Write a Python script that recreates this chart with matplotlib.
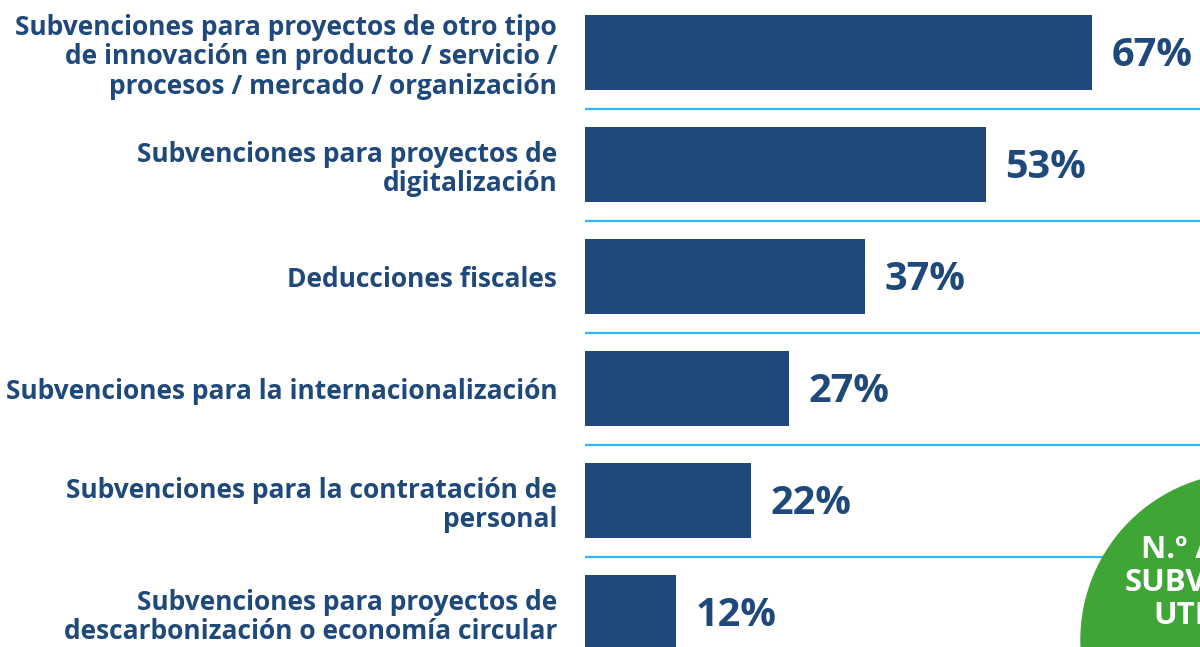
import matplotlib.pyplot as plt
from matplotlib.patches import Circle

# Share of companies using each type of public aid (%)
categories = [
    'Subvenciones para proyectos de otro tipo\nde innovación en producto / servicio /\nprocesos / mercado / organización',
    'Subvenciones para proyectos de\ndigitalización',
    'Deducciones fiscales',
    'Subvenciones para la internacionalización',
    'Subvenciones para la contratación de\npersonal',
    'Subvenciones para proyectos de\ndescarbonización o economía circular',
]
values = [67, 53, 37, 27, 22, 12]
badge_lines = ['N.º AYUDAS Y', 'SUBVENCIONES', 'UTILIZADAS']

navy = '#1f487b'
sky = '#2db8f2'
green = '#3fa536'
font = 'Open Sans'

fig = plt.figure(figsize=(12, 6.47), dpi=100)
W, H = 1200, 647
ax = fig.add_axes([585 / W, 0, 1 - 585 / W, 1])

y = list(range(len(values)))
ax.barh(y, values, height=0.67, color=navy, zorder=2)
for yi, v in zip(y, values):
    ax.annotate(f'{v}%', (v, yi), xytext=(14, -2), textcoords='offset points',
                va='center', ha='left', fontsize=28.5, fontweight='bold',
                color=navy, family=font)

# thin separators between rows
for i in range(len(values) - 1):
    ax.axhline(i + 0.5, color=sky, lw=1.6, zorder=1)

ax.set_xlim(0, (W - 585) / 7.567)
ax.set_ylim((H - 52.5) / 112, -52.5 / 112)
ax.set_yticks(y)
ax.set_yticklabels(categories, fontsize=19, fontweight='bold', color=navy,
                   family=font, linespacing=1.12)
ax.tick_params(axis='y', length=0, pad=20)
ax.tick_params(axis='x', bottom=False, labelbottom=False)
for s in ax.spines.values():
    s.set_visible(False)

# green badge in the lower right corner, in pixel coordinates
ov = fig.add_axes([0, 0, 1, 1], zorder=5)
ov.set_xlim(0, W)
ov.set_ylim(H, 0)
ov.axis('off')
ov.patch.set_alpha(0)
ov.add_patch(Circle((1248, 640), 167, color=green))
for k, line in enumerate(badge_lines):
    ov.text(1244, 550 + 33 * k, line, ha='center', va='center', color='white',
            fontsize=22.5, fontweight='bold', family=font)

fig.savefig('out.png', dpi=100)
